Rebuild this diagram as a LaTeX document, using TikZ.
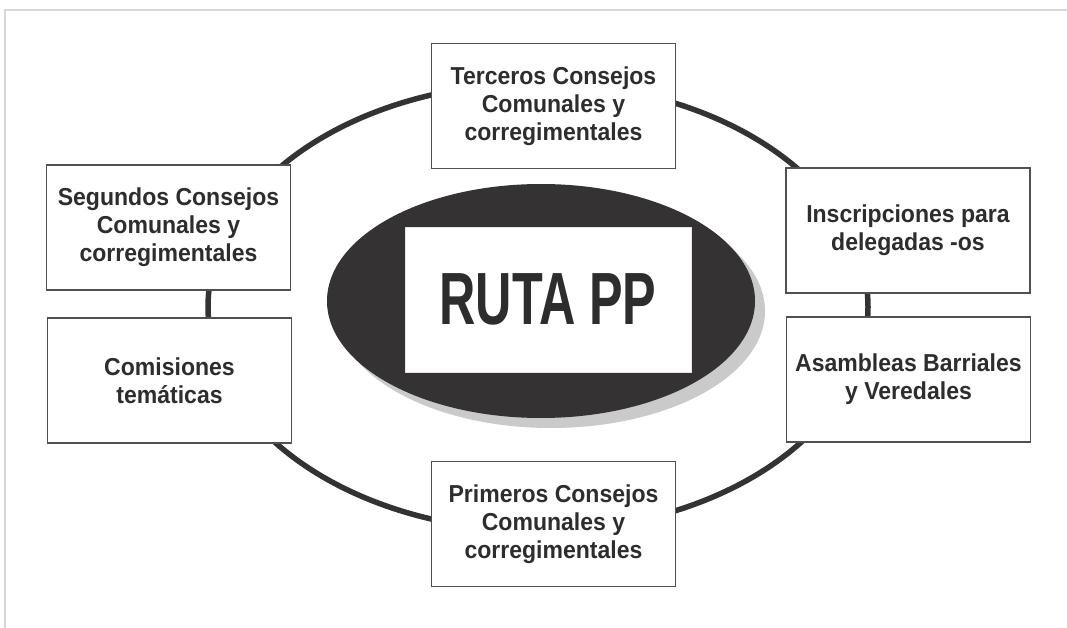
\documentclass[tikz,border=0pt]{standalone}
\usepackage{fontspec}
\setmainfont{Liberation Sans}
\newfontfamily\stepfont[FakeStretch=0.94]{Liberation Sans}
\usetikzlibrary{shapes.geometric, positioning}
\definecolor{ruta-dark}{RGB}{52,50,51}
\definecolor{ruta-line}{RGB}{80,80,80}
\definecolor{ruta-text}{RGB}{45,45,45}
\definecolor{ruta-shadow}{RGB}{202,202,202}
\definecolor{framegray}{RGB}{215,215,215}

\begin{document}
\begin{tikzpicture}[x=1pt, y=-1pt,
  stage/.style={draw=ruta-line, line width=1.6pt, fill=white, minimum width=244pt, minimum height=125pt, inner sep=0pt, align=center, text=ruta-text, font=\stepfont\fontsize{24.5}{28}\selectfont\bfseries},
  hub/.style={ellipse, inner sep=0pt, minimum width=428pt, minimum height=234pt},
]
  \useasboundingbox (0,0) rectangle (1067,628);

  % Frame
  \draw[framegray, line width=2pt] (5,628) -- (5,10) -- (1067,10);

  % Ring
  \coordinate (ring) at (538,307);
  \draw[ruta-dark, line width=5.5pt] (ring) ellipse [x radius=330, y radius=224];

  % Centre
  \node[hub, fill=ruta-shadow] (shadow) at (551,311) {};
  \node[hub, fill=ruta-dark] (core) at (541,301) {};
  \node[fill=white, draw=gray!20, minimum width=286pt, minimum height=145pt, inner sep=0pt, text=ruta-text, font=\fontsize{74}{74}\selectfont\bfseries] (title) at (548,299.5) {\scalebox{0.68}[1]{RUTA PP}};

  % Steps
  \node[stage] (terceros) at (553.5,106) {Terceros Consejos\\Comunales y\\corregimentales};
  \node[stage] (inscripciones) at (908,230.5) {Inscripciones para\\delegadas -os};
  \node[stage] (asambleas) at (908.5,379.5) {Asambleas Barriales\\y Veredales};
  \node[stage] (primeros) at (553.5,524) {Primeros Consejos\\Comunales y\\corregimentales};
  \node[stage] (comisiones) at (169.5,380.5) {Comisiones\\temáticas};
  \node[stage] (segundos) at (168.5,227.5) {Segundos Consejos\\Comunales y\\corregimentales};
\end{tikzpicture}
\end{document}
